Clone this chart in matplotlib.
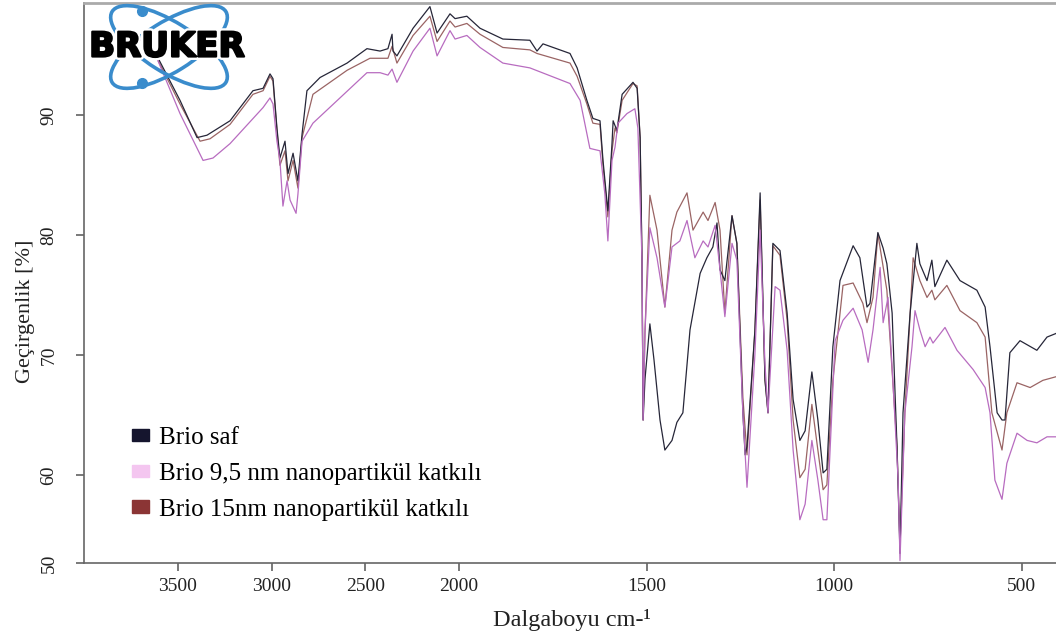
"""
FTIR transmittance spectra of Brio samples (pure and with nanoparticle additive).
Wavenumber axis is compressed above 2000 cm-1, as in the instrument printout.
"""

import numpy as np
import matplotlib
matplotlib.use("Agg")
import matplotlib.pyplot as plt
import matplotlib.patches as mpatches
import matplotlib.patheffects as pe

# ---- data (wavenumber cm-1, transmittance %) ----
wn_saf = [3701, 3611, 3488, 3397, 3344, 3221, 3099, 3045, 3008, 2992, 2971, 2955,
          2928, 2912, 2885, 2859, 2837, 2811, 2741, 2597, 2491, 2421, 2379, 2357,
          2352, 2331, 2245, 2155, 2117, 2048, 2021, 1979, 1944, 1883, 1811, 1792,
          1776, 1704, 1685, 1659, 1643, 1624, 1616, 1603, 1592, 1589, 1579, 1565,
          1536, 1525, 1517, 1512, 1509, 1504, 1491, 1480, 1464, 1451, 1432, 1419,
          1403, 1384, 1357, 1339, 1323, 1312, 1304, 1291, 1272, 1259, 1243, 1237,
          1232, 1211, 1197, 1184, 1176, 1163, 1144, 1125, 1109, 1091, 1077, 1059,
          1043, 1029, 1019, 1003, 984, 949, 931, 912, 904, 883, 869, 859, 845,
          832, 824, 816, 797, 779, 771, 752, 739, 731, 699, 664, 619, 597, 584,
          565, 552, 544, 531, 504, 459, 432, 408, 400]
t_saf = [96.6, 94.9, 91.2, 88.1, 88.3, 89.5, 92.0, 92.2, 93.4, 93.0, 88.9, 86.4,
         87.8, 85.1, 86.8, 84.5, 88.4, 92.0, 93.1, 94.3, 95.5, 95.3, 95.5, 96.7,
         95.3, 94.9, 97.2, 99.0, 96.8, 98.4, 98.0, 98.2, 97.2, 96.3, 96.2, 95.3,
         95.9, 95.1, 93.9, 91.2, 89.7, 89.5, 86.2, 82.0, 87.6, 89.5, 88.7, 91.7,
         92.7, 92.2, 88.1, 77.9, 64.6, 68.0, 72.6, 69.6, 64.6, 62.1, 62.9, 64.4,
         65.2, 72.1, 76.8, 78.1, 79.0, 81.0, 77.1, 76.2, 81.6, 79.3, 65.2, 61.7,
         62.4, 72.0, 83.5, 67.9, 65.2, 79.3, 78.7, 73.5, 66.3, 62.9, 63.7, 68.6,
         64.6, 60.2, 60.5, 70.7, 76.2, 79.1, 78.1, 74.0, 74.3, 80.2, 78.9, 77.6, 73.5,
         62.4, 53.5, 65.2, 73.5, 79.3, 77.6, 76.2, 77.9, 75.7, 77.9, 76.2, 75.4, 74.0, 70.7,
         65.2, 64.6, 64.6, 70.2, 71.2, 70.4, 71.5, 71.8, 72.0]

wn_15 = [3701, 3611, 3488, 3381, 3328, 3221, 3099, 3045, 3008, 2992, 2971, 2955,
         2928, 2912, 2885, 2859, 2837, 2779, 2597, 2475, 2421, 2379, 2357, 2331,
         2245, 2155, 2117, 2048, 2021, 1979, 1944, 1883, 1811, 1792, 1704, 1685,
         1659, 1643, 1624, 1616, 1603, 1592, 1584, 1579, 1565, 1536, 1525, 1517,
         1512, 1509, 1504, 1491, 1472, 1451, 1432, 1419, 1392, 1376, 1349, 1336,
         1317, 1304, 1291, 1272, 1259, 1243, 1232, 1211, 1197, 1184, 1176, 1163,
         1144, 1125, 1109, 1091, 1077, 1059, 1043, 1029, 1019, 1003, 976, 949, 923,
         912, 896, 883, 859, 832, 824, 811, 789, 771, 752, 739, 731, 699, 664,
         619, 597, 579, 552, 539, 512, 477, 443, 408, 400]
t_15 = [96.4, 94.7, 90.9, 87.8, 88.0, 89.2, 91.7, 92.0, 93.2, 92.8, 88.7, 85.8,
        87.0, 84.5, 86.2, 83.9, 88.1, 91.7, 93.7, 94.7, 94.7, 94.7, 95.7, 94.3,
        96.6, 98.2, 96.1, 97.8, 97.3, 97.6, 96.7, 95.6, 95.4, 95.1, 94.3, 93.2,
        90.9, 89.3, 89.2, 85.8, 81.5, 87.0, 88.9, 88.5, 91.2, 92.6, 92.4, 88.1,
        77.9, 64.6, 72.0, 83.3, 80.4, 74.0, 80.4, 81.9, 83.5, 80.4, 81.9, 81.2,
        82.7, 80.4, 73.5, 81.6, 79.3, 66.5, 61.7, 72.0, 82.9, 67.9, 65.2, 79.1,
        78.3, 72.9, 64.6, 59.8, 60.5, 65.9, 62.1, 58.8, 59.2, 67.9, 75.8, 76.0, 74.3,
        72.7, 74.8, 80.1, 75.4, 62.4, 54.1, 65.2, 78.1, 76.2, 74.8, 75.4, 74.6, 75.8, 73.7,
        72.7, 71.5, 65.2, 62.1, 65.2, 67.7, 67.3, 67.9, 68.2, 68.2]

wn_95 = [3701, 3611, 3488, 3365, 3312, 3221, 3045, 3008, 2992, 2971, 2955, 2939,
         2917, 2901, 2869, 2859, 2837, 2779, 2635, 2491, 2421, 2379, 2357, 2331,
         2245, 2155, 2117, 2048, 2021, 1979, 1944, 1883, 1811, 1704, 1677, 1651,
         1624, 1611, 1603, 1592, 1584, 1576, 1552, 1531, 1523, 1512, 1509, 1504,
         1491, 1472, 1451, 1432, 1411, 1392, 1371, 1349, 1336, 1317, 1304, 1291,
         1272, 1259, 1243, 1232, 1211, 1197, 1184, 1176, 1157, 1144, 1125, 1109,
         1091, 1077, 1059, 1043, 1029, 1019, 997, 976, 949, 925, 909, 896, 877,
         869, 856, 843, 829, 824, 811, 792, 784, 771, 757, 744, 736, 704, 672,
         629, 597, 584, 571, 552, 539, 512, 485, 459, 432, 408, 400]
t_95 = [96.3, 94.7, 90.1, 86.2, 86.4, 87.6, 90.6, 91.4, 90.9, 87.8, 86.2, 82.4,
        84.5, 82.9, 81.8, 83.4, 87.8, 89.3, 91.4, 93.5, 93.5, 93.3, 93.8, 92.7,
        95.3, 97.2, 94.9, 97.0, 96.3, 96.6, 95.6, 94.3, 93.9, 92.6, 91.2, 87.2,
        87.0, 83.4, 79.5, 86.2, 87.3, 89.3, 90.1, 90.5, 88.9, 77.9, 64.6, 72.0,
        80.6, 78.1, 74.0, 79.0, 79.5, 81.2, 78.1, 79.5, 79.0, 80.8, 77.1, 73.2,
        79.3, 77.9, 65.2, 59.0, 70.0, 80.4, 69.2, 65.2, 75.7, 75.4, 70.4, 62.1,
        56.3, 57.6, 62.9, 59.6, 56.3, 56.3, 71.2, 72.9, 73.9, 72.1, 69.4, 72.1, 77.3,
        72.7, 74.8, 67.9, 59.6, 52.9, 65.2, 70.7, 73.7, 72.1, 70.7, 71.5, 71.0, 72.3, 70.4,
        68.8, 67.3, 65.2, 59.6, 58.0, 61.0, 63.5, 62.9, 62.7, 63.2, 63.2, 63.2]

labels = ["Brio saf", "Brio 9,5 nm nanopartikül katkılı", "Brio 15nm nanopartikül katkılı"]
x_ticks = [3500, 3000, 2500, 2000, 1500, 1000, 500]
y_ticks = [52.7, 60, 70, 80, 90]
y_ticklabels = ["50", "60", "70", "80", "90"]

SERIF = ["Liberation Serif", "DejaVu Serif"]


def fwd(x):
    x = np.asarray(x, dtype=float)
    return np.where(x > 2000, 2000 + (x - 2000) * 0.5, x)


def inv(u):
    u = np.asarray(u, dtype=float)
    return np.where(u > 2000, 2000 + (u - 2000) * 2.0, u)


def main():
    plt.rcParams["font.family"] = SERIF
    W, H = 1056, 639
    fig = plt.figure(figsize=(W / 100, H / 100), dpi=100)
    ax = fig.add_axes([84 / W, (H - 563) / H, (1059 - 84) / W, (563 - 3) / H])

    ax.set_xscale("function", functions=(fwd, inv))
    ax.plot(wn_saf, t_saf, color="#262638", lw=0.9, zorder=3)
    ax.plot(wn_15, t_15, color="#9a6464", lw=0.9, zorder=2)
    ax.plot(wn_95, t_95, color="#b86cc0", lw=0.9, zorder=4)

    ax.set_xlim(4000, 400)
    ax.set_ylim(52.7, 99.3)
    ax.set_xticks(x_ticks)
    ax.set_xticklabels([str(v) for v in x_ticks])
    ax.set_yticks(y_ticks)
    ax.set_yticklabels(y_ticklabels, rotation=90, va="center")
    ax.xaxis.set_minor_locator(plt.NullLocator())

    ax.tick_params(direction="out", length=6, width=1.1, color="#555555",
                   labelsize=14, labelcolor="#222222")
    ax.tick_params(axis="x", pad=5)
    ax.tick_params(axis="y", pad=13)
    for s in ax.spines.values():
        s.set_color("#666666")
        s.set_linewidth(1.2)
    ax.spines["top"].set_color("#aaaaaa")
    ax.spines["top"].set_linewidth(2)

    ax.set_xlabel("Dalgaboyu cm-¹", fontsize=17.5, color="#222222", labelpad=10)
    ax.set_ylabel("Geçirgenlik [%]", fontsize=16, color="#222222")
    ax.yaxis.set_label_coords(-0.05, 0.45)

    handles = [
        mpatches.Patch(color="#15152e", label=labels[0]),
        mpatches.Patch(color="#f4c6f0", label=labels[1]),
        mpatches.Patch(color="#8b3535", label=labels[2]),
    ]
    ax.legend(handles=handles, loc="upper left", bbox_to_anchor=(0.036, 0.265),
              frameon=False, handlelength=0.7, handleheight=0.4,
              handletextpad=0.4, labelspacing=0.55, borderpad=0,
              prop={"family": SERIF, "size": 18})

    # Bruker logo, drawn in pixel coordinates
    lg = fig.add_axes([85 / W, (H - 92) / H, 165 / W, 90 / H])
    lg.set_xlim(85, 250)
    lg.set_ylim(92, 2)
    lg.axis("off")
    lg.patch.set_alpha(0)
    for ang in (32, -32):
        lg.add_patch(mpatches.Ellipse((169, 47), 134, 50, angle=ang, fill=False,
                                      edgecolor="#3a8ccc", lw=2.6))
    lg.plot([142, 142], [11, 83], "o", color="#3a8ccc", ms=7, ls="none")
    lg.text(167, 47, "BRUKER", ha="center", va="center", fontsize=24.5,
            fontweight="bold", family="DejaVu Sans", color="black",
            path_effects=[pe.Stroke(linewidth=5, foreground="white"),
                          pe.Stroke(linewidth=1.6, foreground="black"),
                          pe.Normal()])

    fig.savefig("out.png", dpi=100)
    plt.close(fig)


if __name__ == "__main__":
    main()
